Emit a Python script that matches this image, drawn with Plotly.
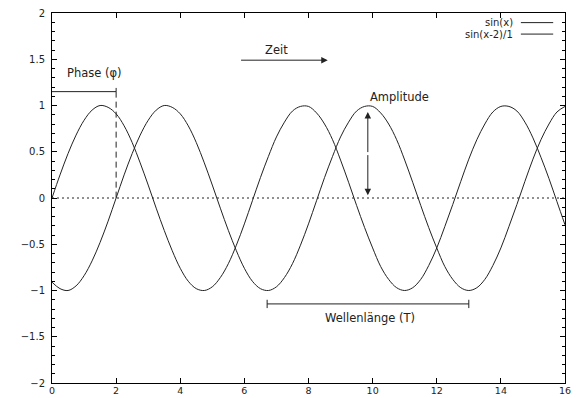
import plotly.graph_objects as go

# sample positions (x) and values
x_vals = [i * 0.25 for i in range(65)]
sin_x = [0.00, 0.25, 0.48, 0.68, 0.84, 0.95, 1.00, 0.98, 0.91, 0.78, 0.60, 0.38, 0.14,
         -0.11, -0.35, -0.57, -0.76, -0.90, -0.98, -1.00, -0.96, -0.86, -0.71, -0.51,
         -0.28, -0.03, 0.22, 0.45, 0.66, 0.82, 0.94, 0.99, 0.99, 0.92, 0.80, 0.63, 0.41,
         0.17, -0.08, -0.32, -0.54, -0.74, -0.88, -0.97, -1.00, -0.97, -0.88, -0.73,
         -0.54, -0.31, -0.07, 0.18, 0.42, 0.63, 0.80, 0.93, 0.99, 0.99, 0.94, 0.82,
         0.65, 0.44, 0.21, -0.04, -0.29]
sin_x_shift = [-0.91, -0.98, -1.00, -0.95, -0.84, -0.68, -0.48, -0.25,
               0.00, 0.25, 0.48, 0.68, 0.84, 0.95, 1.00, 0.98, 0.91, 0.78, 0.60, 0.38, 0.14,
               -0.11, -0.35, -0.57, -0.76, -0.90, -0.98, -1.00, -0.96, -0.86, -0.71, -0.51,
               -0.28, -0.03, 0.22, 0.45, 0.66, 0.82, 0.94, 0.99, 0.99, 0.92, 0.80, 0.63, 0.41,
               0.17, -0.08, -0.32, -0.54, -0.74, -0.88, -0.97, -1.00, -0.97, -0.88, -0.73,
               -0.54, -0.31, -0.07, 0.18, 0.42, 0.63, 0.80, 0.93, 0.99]
series_names = ["sin(x)", "sin(x-2)/1"]
x_ticks = [0, 2, 4, 6, 8, 10, 12, 14, 16]
y_ticks = [-2, -1.5, -1, -0.5, 0, 0.5, 1, 1.5, 2]

INK = "#222222"
FONT = "DejaVu Sans, Verdana, sans-serif"

fig = go.Figure()
# zero line (dotted)
fig.add_trace(go.Scatter(x=[0, 16], y=[0, 0], mode="lines",
                         line=dict(color=INK, width=1, dash="2px,3px"),
                         showlegend=False, hoverinfo="skip"))
for ys in (sin_x, sin_x_shift):
    fig.add_trace(go.Scatter(x=x_vals, y=ys, mode="lines",
                             line=dict(color=INK, width=1, shape="spline"),
                             showlegend=False))

shapes = []
# Phase marker
shapes.append(dict(type="line", xref="x", yref="y", x0=0, x1=2, y0=1.15, y1=1.15,
                   line=dict(color=INK, width=1)))
shapes.append(dict(type="line", xref="x", yref="y", x0=2, x1=2, y0=1.15, y1=1.19,
                   line=dict(color=INK, width=1)))
shapes.append(dict(type="line", xref="x", yref="y", x0=2, x1=2, y0=1.15, y1=0,
                   line=dict(color=INK, width=1, dash="6px,4px")))
# Wellenlänge bar
shapes.append(dict(type="line", xref="x", yref="y", x0=6.71, x1=13.0, y0=-1.145, y1=-1.145,
                   line=dict(color=INK, width=1)))
for xe in (6.71, 13.0):
    shapes.append(dict(type="line", xref="x", yref="y", x0=xe, x1=xe, y0=-1.10, y1=-1.19,
                       line=dict(color=INK, width=1)))
# legend samples
LEG_Y = (0.974, 0.943)
for yp in LEG_Y:
    shapes.append(dict(type="line", xref="paper", yref="paper", x0=0.914, x1=0.977,
                       y0=yp, y1=yp, line=dict(color=INK, width=1)))

TF = dict(size=11.5, color=INK, family=FONT)
annotations = [
    dict(x=1.34, y=1.35, xref="x", yref="y", text="Phase (φ)", showarrow=False, font=TF),
    dict(x=7.0, y=1.6, xref="x", yref="y", text="Zeit", showarrow=False, font=TF),
    dict(x=9.93, y=1.09, xref="x", yref="y", text="Amplitude", showarrow=False,
         xanchor="left", xshift=-2, font=TF),
    dict(x=9.92, y=-1.30, xref="x", yref="y", text="Wellenlänge (T)", showarrow=False, font=TF),
    # Zeit arrow
    dict(x=8.6, y=1.49, ax=5.85, ay=1.49, xref="x", yref="y", axref="x", ayref="y",
         text="", showarrow=True, arrowhead=2, arrowsize=1.3, arrowwidth=1, arrowcolor=INK),
    # Amplitude arrows (double-headed)
    dict(x=9.85, y=0.93, ax=9.85, ay=0.48, xref="x", yref="y", axref="x", ayref="y",
         text="", showarrow=True, arrowhead=2, arrowsize=1.3, arrowwidth=1, arrowcolor=INK),
    dict(x=9.85, y=0.03, ax=9.85, ay=0.48, xref="x", yref="y", axref="x", ayref="y",
         text="", showarrow=True, arrowhead=2, arrowsize=1.3, arrowwidth=1, arrowcolor=INK),
]
for name, yp in zip(series_names, LEG_Y):
    annotations.append(dict(x=0.9025, y=yp, xref="paper", yref="paper", text=name,
                            showarrow=False, xanchor="right", yanchor="middle",
                            font=dict(size=10, color=INK, family=FONT)))

fig.update_layout(
    width=580, height=398,
    margin=dict(l=52, r=15, t=13, b=15),
    paper_bgcolor="white", plot_bgcolor="white",
    font=dict(family=FONT, size=10, color=INK),
    shapes=shapes, annotations=annotations, showlegend=False,
)
fig.update_xaxes(range=[0, 16], tickvals=x_ticks, ticks="inside", ticklen=5,
                 showline=True, linecolor="black", linewidth=1, mirror="ticks",
                 showgrid=False, zeroline=False, tickcolor="black", automargin=False,
                 ticklabelstandoff=-1,
                 tickfont=dict(size=9.5, family=FONT, color=INK))
fig.update_yaxes(range=[-2, 2], tickvals=y_ticks, ticks="inside", ticklen=5,
                 showline=True, linecolor="black", linewidth=1, mirror="ticks",
                 showgrid=False, zeroline=False, tickcolor="black", automargin=False,
                 ticklabelstandoff=4,
                 minor=dict(dtick=0.1, ticks="inside", ticklen=3, tickcolor="black", showgrid=False),
                 tickfont=dict(size=10, family=FONT, color=INK))

fig.write_html("out.html")
